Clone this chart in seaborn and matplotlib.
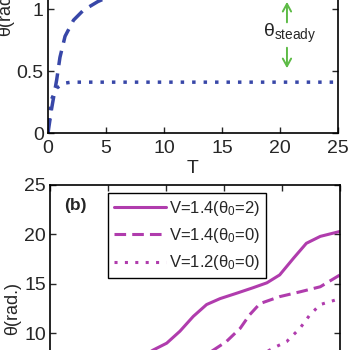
import matplotlib
matplotlib.use('Agg')
import matplotlib.pyplot as plt
import seaborn as sns

sns.set_style("ticks")
plt.rcParams['font.family'] = ['Liberation Sans', 'DejaVu Sans']
plt.rcParams['mathtext.fontset'] = 'custom'
plt.rcParams['mathtext.rm'] = 'Liberation Sans'
plt.rcParams['mathtext.it'] = 'Liberation Sans'
plt.rcParams['xtick.direction'] = 'in'
plt.rcParams['ytick.direction'] = 'in'

# panel (a): angle vs time
t_dash = [0, 0.3, 0.75, 1.03, 1.47, 2.2, 3.05, 4.3, 6, 8, 12, 18, 25]
th_dash = [0, 0.19, 0.43, 0.61, 0.78, 0.91, 0.99, 1.06, 1.13, 1.18, 1.22, 1.23, 1.23]
t_dot = [0, 0.3, 0.72, 1.3, 2, 5, 10, 15, 20, 25]
th_dot = [0, 0.27, 0.36, 0.4, 0.41, 0.41, 0.41, 0.41, 0.41, 0.41]

# panel (b)
t_b1 = [7.6, 8.9, 10.06, 11.2, 12.35, 13.5, 14.66, 16.1, 17.5, 18.7, 19.8, 21.0, 22.1, 23.3, 25.0]
th_b1 = [7.4, 8.3, 8.99, 10.2, 11.7, 12.9, 13.5, 14.05, 14.6, 15.1, 15.9, 17.6, 19.1, 19.8, 20.3]
t_b2 = [13.0, 14.1, 15.2, 16.4, 17.2, 18.1, 19.8, 21.6, 23.3, 25.0]
th_b2 = [7.5, 8.3, 9.15, 10.5, 11.85, 13.0, 13.7, 14.2, 14.7, 15.9]
t_b3 = [18.2, 19.25, 20.4, 21.55, 22.4, 23.3, 25.0]
th_b3 = [7.8, 8.5, 9.15, 10.5, 11.85, 12.9, 13.5]
labels_b = ['V=1.4(θ$_0$=2)', 'V=1.4(θ$_0$=0)', 'V=1.2(θ$_0$=0)']

blue = '#3847a8'
magenta = '#b03cad'
green = '#5dbb46'

fig = plt.figure(figsize=(3.5, 3.5), dpi=100)
ax1 = fig.add_axes([48 / 350, 1 - 133 / 350, 290 / 350, 248 / 350])
ax2 = fig.add_axes([50 / 350, 1 - 432 / 350, 290 / 350, 247 / 350])

sns.lineplot(x=t_dash, y=th_dash, ax=ax1, color=blue, linewidth=2.5,
             linestyle=(0, (4.2, 2.4)))
sns.lineplot(x=t_dot, y=th_dot, ax=ax1, color=blue, linewidth=2.5,
             linestyle=(0, (1, 2.3)))
ax1.set_xlim(0, 25)
ax1.set_ylim(0, 2)
ax1.set_xticks([0, 5, 10, 15, 20, 25])
ax1.set_yticks([0, 0.5, 1, 1.5, 2])
ax1.set_yticklabels(['0', '0.5', '1', '1.5', '2'])
ax1.set_xlabel('T', fontsize=14, labelpad=2)
ax1.set_ylabel('θ(rad.)', fontsize=13, labelpad=2)

arrow_kw = dict(arrowstyle='->,head_width=0.3,head_length=0.55', color=green, lw=1.4)
ax1.annotate('', xy=(20.6, 1.08), xytext=(20.6, 0.87), arrowprops=arrow_kw)
ax1.annotate('', xy=(20.6, 0.5), xytext=(20.6, 0.71), arrowprops=arrow_kw)
ax1.text(20.8, 0.8, 'θ$_{\\rm steady}$', fontsize=14, ha='center', va='center')

styles = ['-', (0, (3.8, 2)), (0, (1, 2.4))]
for tx, ty, ls, lab in zip([t_b1, t_b2, t_b3], [th_b1, th_b2, th_b3], styles, labels_b):
    sns.lineplot(x=tx, y=ty, ax=ax2, color=magenta, linewidth=2.2, linestyle=ls, label=lab)
ax2.set_xlim(0, 25)
ax2.set_ylim(0, 25)
ax2.set_xticks([0, 5, 10, 15, 20, 25])
ax2.set_yticks([0, 5, 10, 15, 20, 25])
ax2.set_ylabel('θ(rad.)', fontsize=13, labelpad=2)
ax2.text(0.086, 0.915, '(b)', transform=ax2.transAxes, fontsize=12.5,
         fontweight='bold', ha='center', va='center')
leg = ax2.legend(loc='upper left', bbox_to_anchor=(0.2, 0.968), borderaxespad=0,
                 fontsize=12, handlelength=3.1, handletextpad=0.2,
                 labelspacing=0.5, borderpad=0.35, fancybox=False,
                 framealpha=1, edgecolor='black')
leg.get_frame().set_linewidth(1)

for ax in (ax1, ax2):
    ax.tick_params(labelsize=14, length=4, width=1, top=True, right=True)
    ax.tick_params(axis='x', pad=5)
    ax.tick_params(axis='y', pad=3)
    for s in ax.spines.values():
        s.set_linewidth(1.2)
        s.set_color('black')

fig.savefig('out.png', dpi=100)
